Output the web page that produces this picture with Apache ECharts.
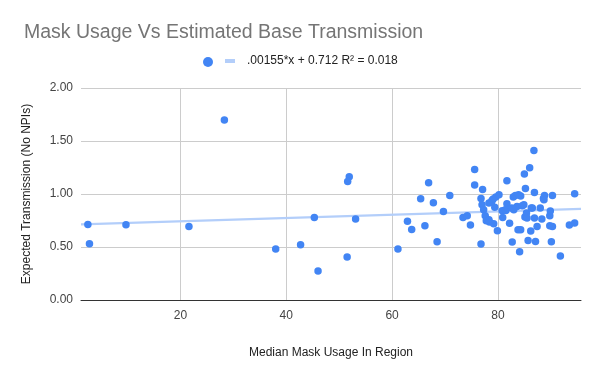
<!DOCTYPE html>
<html>
<head>
<meta charset="utf-8">
<script src="https://cdn.jsdelivr.net/npm/echarts@6/dist/echarts.min.js"></script>
<style>html,body{margin:0;padding:0;background:#fff;}#c{width:600px;height:371px;}</style>
</head>
<body>
<div id="c"></div>
<script>
const maskUsage = [2.5,2.8,9.7,21.6,28.3,38.0,42.7,45.3,46.0,51.9,51.6,53.1,51.5,61.1,62.9,63.7,65.4,66.2,66.9,67.8,68.5,69.7,70.9,73.4,74.2,74.8,75.6,75.6,76.8,77.1,76.8,77.0,77.3,77.6,77.8,78.4,78.8,79.1,79.4,79.6,79.2,79.9,80.2,80.8,80.9,81.7,81.7,81.5,82.2,82.7,82.9,83.3,83.0,83.6,83.8,84.1,84.3,84.6,84.9,85.0,85.2,85.1,85.4,85.7,86.0,86.2,86.3,86.8,86.9,86.9,87.1,87.4,88.0,88.3,88.6,88.8,89.8,89.9,89.8,90.3,90.1,90.3,91.8,93.5,94.5,94.5,78.9,78.3,81.4,83.9,82.6,88.7,86.5,85.5,78.3,84.3];
const transmission = [0.713,0.531,0.710,0.694,1.698,0.481,0.522,0.779,0.274,1.163,1.119,0.764,0.406,0.481,0.742,0.666,0.956,0.701,1.107,0.918,0.550,0.836,0.987,0.779,0.795,0.708,1.232,1.085,0.528,1.043,0.958,0.899,0.852,0.795,0.748,0.736,0.925,0.953,0.874,0.972,0.720,0.654,0.993,0.842,0.779,1.125,0.908,0.845,0.723,0.547,0.972,0.987,0.852,0.883,0.663,0.456,0.981,0.890,0.899,1.189,1.053,0.783,0.821,0.562,1.248,0.651,0.868,1.411,1.015,0.774,0.553,0.694,0.868,0.764,0.958,0.987,0.795,0.840,0.701,0.694,0.550,0.987,0.415,0.708,0.726,1.003,0.940,0.915,0.852,0.993,0.868,0.946,0.868,0.774,0.758,0.663];
const xTicks = [20, 40, 60, 80];
const yTicks = [0, 0.5, 1, 1.5, 2];
const trendSlope = 0.00155;
const trendIntercept = 0.712;
const xRange = [1.2, 95.7];
const trendLabel = '.00155*x + 0.712 R\u00b2 = 0.018';

const points = maskUsage.map((x, i) => [x, transmission[i]]);
const trendData = xRange.map(x => [x, trendSlope * x + trendIntercept]);

const chart = echarts.init(document.getElementById('c'), null, {renderer: 'canvas'});
const font = 'Arial, "Liberation Sans", sans-serif';
chart.setOption({
  animation: false,
  textStyle: {fontFamily: font},
  title: {
    text: 'Mask Usage Vs Estimated Base Transmission',
    left: 19, top: 18,
    textStyle: {fontSize: 19.5, fontWeight: 'normal', color: '#757575', fontFamily: font}
  },
  legend: [{
    data: [{name: 'points', icon: 'circle'}],
    left: 203, top: 57, padding: 0,
    itemWidth: 10, itemHeight: 10,
    formatter: () => '',
    selectedMode: false
  }, {
    data: [{name: 'trend', icon: 'rect'}],
    left: 225, top: 55, padding: 0,
    itemWidth: 10, itemHeight: 4,
    formatter: () => trendLabel,
    textStyle: {fontSize: 12, color: '#222', fontFamily: font, padding: [0, 0, 0, 7]},
    selectedMode: false
  }],
  grid: {left: 81, right: 19, top: 88, bottom: 71, containLabel: false},
  xAxis: {
    type: 'value',
    min: xRange[0], max: xRange[1],
    name: 'Median Mask Usage In Region',
    nameLocation: 'middle', nameGap: 47,
    nameTextStyle: {fontSize: 12, color: '#222', fontFamily: font},
    axisLine: {show: true, onZero: false, lineStyle: {color: '#333', width: 1}},
    axisTick: {show: false, customValues: xTicks},
    axisLabel: {customValues: xTicks, fontSize: 12, color: '#444', margin: 10, fontFamily: font},
    splitLine: {show: true, lineStyle: {color: '#cccccc', width: 1}}
  },
  yAxis: {
    type: 'value',
    min: 0, max: 2, interval: 0.5,
    name: 'Expected Transmission (No NPIs)',
    nameLocation: 'middle', nameGap: 48,
    nameTextStyle: {fontSize: 12, color: '#222', fontFamily: font},
    axisLine: {show: false},
    axisTick: {show: false},
    axisLabel: {formatter: v => v.toFixed(2), fontSize: 12, color: '#444', margin: 8, fontFamily: font},
    splitLine: {show: true, lineStyle: {color: '#cccccc', width: 1}}
  },
  series: [{
    name: 'trend',
    type: 'line',
    data: trendData,
    showSymbol: false,
    symbol: 'none',
    itemStyle: {color: '#b3cefa'},
    lineStyle: {color: '#b3cefa', width: 2.2},
    z: 2,
    silent: true
  }, {
    name: 'points',
    type: 'scatter',
    data: points,
    symbolSize: 7.5,
    itemStyle: {color: '#4285f4', opacity: 1},
    z: 3
  }]
});
</script>
</body>
</html>
